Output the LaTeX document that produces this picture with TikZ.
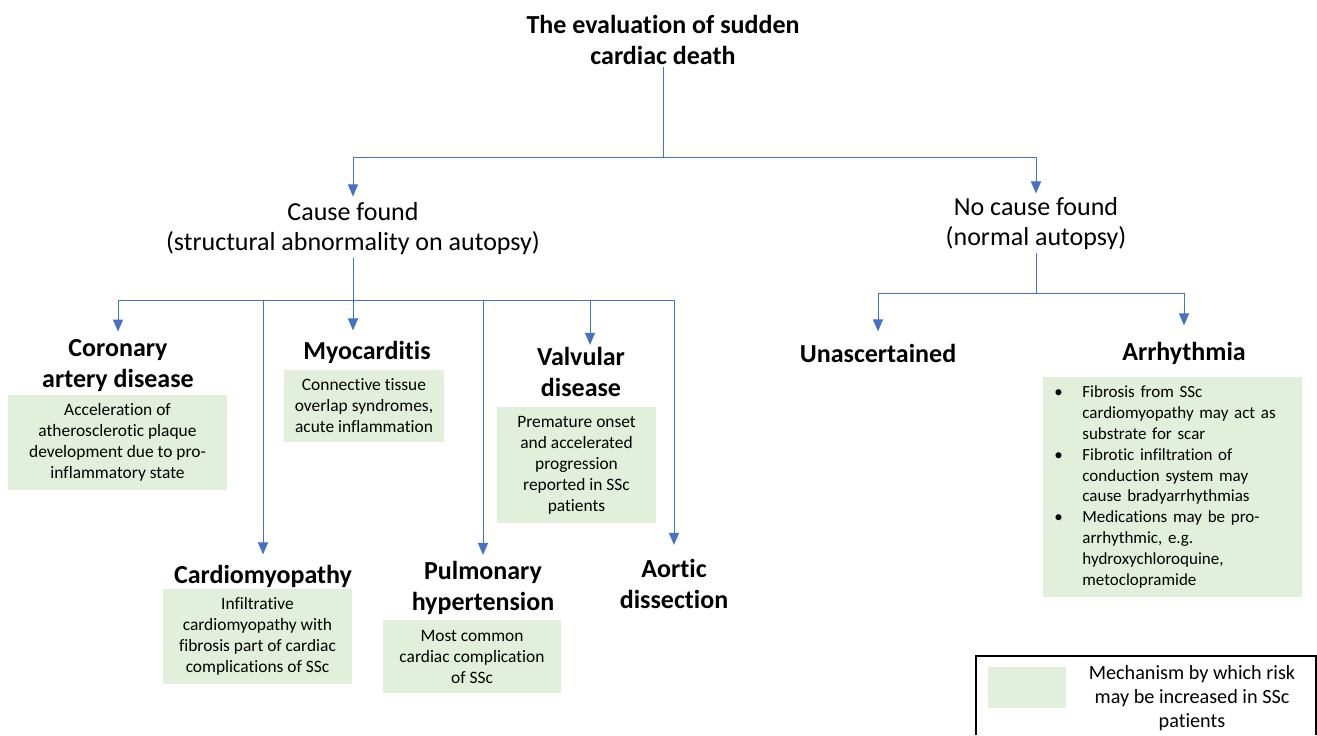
\documentclass[tikz,border=0pt]{standalone}
\usepackage{fontspec}
\setmainfont{Carlito}[Ligatures=NoCommon]
\usetikzlibrary{arrows.meta}

\definecolor{linkblue}{HTML}{4472C4}
\definecolor{mechgreen}{HTML}{E2EFDA}

\tikzset{
  link/.style={draw=linkblue, line width=0.5pt},
  arr/.style={link, -{Triangle[width=5pt,length=6pt]}, shorten >=#1},
  arr/.default=0pt,
  head/.style={font=\fontsize{13}{15.5}\selectfont\bfseries, align=center, inner sep=1pt},
  branch/.style={font=\fontsize{13}{15}\selectfont, align=center, inner sep=1pt},
  mech/.style={fill=mechgreen, font=\fontsize{8.7}{10.5}\selectfont, align=center, inner sep=0pt},
}

\begin{document}
\begin{tikzpicture}[x=0.5pt,y=-0.5pt]
\useasboundingbox (0,0) rectangle (1317,735);

% top levels
\node[head] (title) at (663,40) {The evaluation of sudden\\cardiac death};
\node[branch] (found) at (353,229) {Cause found\\(structural abnormality on autopsy)};
\node[branch] (nofound) at (1036,224) {No cause found\\(normal autopsy)};

% causes
\node[head] (cad) at (118,366) {Coronary\\artery disease};
\node[head] (myo) at (367,352) {Myocarditis};
\node[head] (valv) at (581,372) {Valvular\\disease};
\node[head] (cmp) at (263,576) {Cardiomyopathy};
\node[head] (ph) at (483,588) {Pulmonary\\hypertension};
\node[head] (aortic) at (674,584) {Aortic\\dissection};
\node[head] (unasc) at (878,353) {Unascertained};
\node[head] (arrh) at (1184,353) {Arrhythmia};

% mechanisms
\node[mech, minimum width=109.5pt, minimum height=47.5pt] (cadbox) at (117.5,442.5)
  {Acceleration of\\atherosclerotic plaque\\development due to pro-\\inflammatory state};
\node[mech, minimum width=80pt, minimum height=36pt] (myobox) at (364,406)
  {Connective tissue\\overlap syndromes,\\acute inflammation};
\node[mech, minimum width=79.5pt, minimum height=58pt] (valvbox) at (576.5,465)
  {Premature onset\\and accelerated\\progression\\reported in SSc\\patients};
\node[mech, minimum width=94.5pt, minimum height=47.5pt] (cmpbox) at (257.5,636.5)
  {Infiltrative\\cardiomyopathy with\\fibrosis part of cardiac\\complications of SSc};
\node[mech, minimum width=89pt, minimum height=36.5pt] (phbox) at (472,656.5)
  {Most common\\cardiac complication\\of SSc};
\node[mech, anchor=north west, align=left, text width=118.5pt, inner xsep=5.5pt,
  minimum height=110pt, font=\fontsize{8.5}{10.4}\selectfont] (arrhbox) at (1043,377)
  {\begin{tabular}{@{}p{14pt}@{}l@{}}
   \textbullet & Fibrosis from SSc\\
    & cardiomyopathy may act as\\
    & substrate for scar\\
   \textbullet & Fibrotic infiltration of\\
    & conduction system may\\
    & cause bradyarrhythmias\\
   \textbullet & Medications may be pro-\\
    & arrhythmic, e.g.\\
    & hydroxychloroquine,\\
    & metoclopramide
   \end{tabular}};

% connectors
\coordinate (hub) at (663,157);
\coordinate (split) at (353,300);
\coordinate (split2) at (1036,293);
\draw[link] (title) -- (hub);
\draw[arr=2pt] (hub) -| (found.north);
\draw[arr=1pt] (hub) -| (nofound.north);

\draw[link] (found) -- (split);
\draw[arr=3pt] (split) -| (cad.north);
\draw[arr=4pt] (split) -- (split |- myo.north);
\draw[arr=4pt] (split) -| (cmp.north);
\draw[arr=2pt] (split) -| (ph.north);
\draw[arr] (split) -| ([xshift=4.5pt]valv.north);
\draw[arr=6pt] (split) -| (aortic.north);

\draw[link] (nofound) -- (split2);
\draw[arr=5pt] (split2) -| (unasc.north);
\draw[arr=7pt] (split2) -| (arrh.north);

% legend
\draw[line width=0.6pt] (976,735) -- (976,656) -- (1316,656) -- (1316,735);
\fill[mechgreen] (988,667) rectangle (1066,708);
\node[font=\fontsize{10.1}{12}\selectfont, align=center, inner sep=0pt] (legtext) at (1192,698)
  {Mechanism by which risk\\may be increased in SSc\\patients};
\end{tikzpicture}
\end{document}
